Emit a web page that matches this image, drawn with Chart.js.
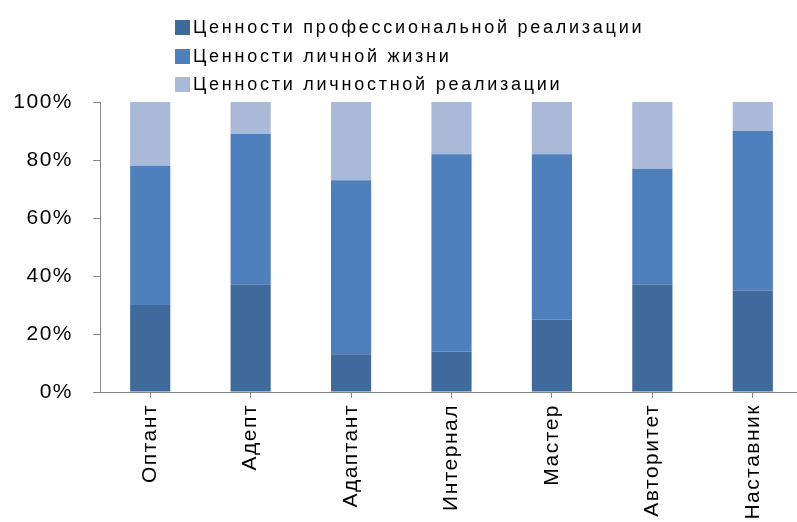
<!DOCTYPE html>
<html>
<head>
<meta charset="utf-8">
<script src="https://cdn.jsdelivr.net/npm/chart.js@4/dist/chart.umd.min.js"></script>
<style>
    body { margin: 0; background: #fff; }
    #wrap { position: relative; width: 797px; height: 522px; overflow: hidden; }
    #area { position: absolute; left: 0; top: 0; width: 803px; height: 522px; }
    #legenda { position: absolute; left: 175px; top: 20px; font-family: "Liberation Sans", Arial, sans-serif; font-size: 18px; letter-spacing: 2.75px; color: #000; }
    .item { height: 28.5px; display: flex; align-items: flex-start; white-space: nowrap; }
    .quad { width: 15px; height: 15px; margin-right: 3px; flex: none; }
    .item span { line-height: 15px; }
</style>
</head>
<body>
<div id="wrap">
    <div id="area"><canvas id="grafico"></canvas></div>
    <div id="legenda"></div>
</div>
<script>
// типы профессионалов
var tipos = ["Оптант", "Адепт", "Адаптант", "Интернал", "Мастер", "Авторитет", "Наставник"];

// доля ценностей, %
var valoresProf = [30, 37, 13, 14, 25, 37, 35];
var valoresVida = [48, 52, 60, 68, 57, 40, 55];
var valoresPessoal = [22, 11, 27, 18, 18, 23, 10];

var nomesSeries = ["Ценности профессиональной реализации", "Ценности личной жизни", "Ценности личностной реализации"];
var marcasY = [0, 20, 40, 60, 80, 100];

var cores = ["#3f6a9c", "#4d80bd", "#aab9d7"];
var corEixo = "#868686";

// legenda em html, tres linhas
var legenda = document.getElementById("legenda");
for (var i = 0; i < nomesSeries.length; i++) {
    var linha = document.createElement("div");
    linha.className = "item";
    var q = document.createElement("div");
    q.className = "quad";
    q.style.background = cores[i];
    var t = document.createElement("span");
    t.textContent = nomesSeries[i];
    linha.appendChild(q);
    linha.appendChild(t);
    legenda.appendChild(linha);
}

// espaçamento entre letras no canvas
var espacamento = {
    id: "espacamento",
    beforeUpdate: function (chart) { chart.ctx.letterSpacing = "1.5px"; },
    beforeDraw: function (chart) { chart.ctx.letterSpacing = "1.5px"; }
};

var ctx = document.getElementById("grafico").getContext("2d");
var grafico = new Chart(ctx, {
    type: "bar",
    data: {
        labels: tipos,
        datasets: [
            { label: nomesSeries[0], data: valoresProf, backgroundColor: cores[0] },
            { label: nomesSeries[1], data: valoresVida, backgroundColor: cores[1] },
            { label: nomesSeries[2], data: valoresPessoal, backgroundColor: cores[2] }
        ]
    },
    options: {
        responsive: true,
        maintainAspectRatio: false,
        animation: false,
        devicePixelRatio: 1,
        datasets: { bar: { barPercentage: 0.4, categoryPercentage: 1 } },
        layout: { padding: { top: 102, right: 0, left: 0, bottom: 0 } },
        plugins: {
            legend: { display: false },
            tooltip: { enabled: false }
        },
        scales: {
            x: {
                stacked: true,
                afterFit: function (s) { s.height = 130; },
                border: { color: corEixo, width: 1 },
                grid: { offset: false, drawOnChartArea: false, drawTicks: true, tickLength: 6, color: corEixo },
                ticks: {
                    autoSkip: false,
                    minRotation: 90,
                    maxRotation: 90,
                    padding: 6,
                    color: "#000",
                    font: { family: "Liberation Sans", size: 21 }
                }
            },
            y: {
                stacked: true,
                min: 0,
                max: 100,
                afterFit: function (s) { s.width = 100; },
                afterBuildTicks: function (s) { s.ticks = marcasY.map(function (v) { return { value: v }; }); },
                border: { color: corEixo, width: 1 },
                grid: { drawOnChartArea: false, drawTicks: true, tickLength: 7, color: corEixo },
                ticks: {
                    padding: 20,
                    color: "#000",
                    font: { family: "Liberation Sans", size: 21 },
                    callback: function (v) { return v + "%"; }
                }
            }
        }
    },
    plugins: [espacamento]
});
</script>
</body>
</html>
